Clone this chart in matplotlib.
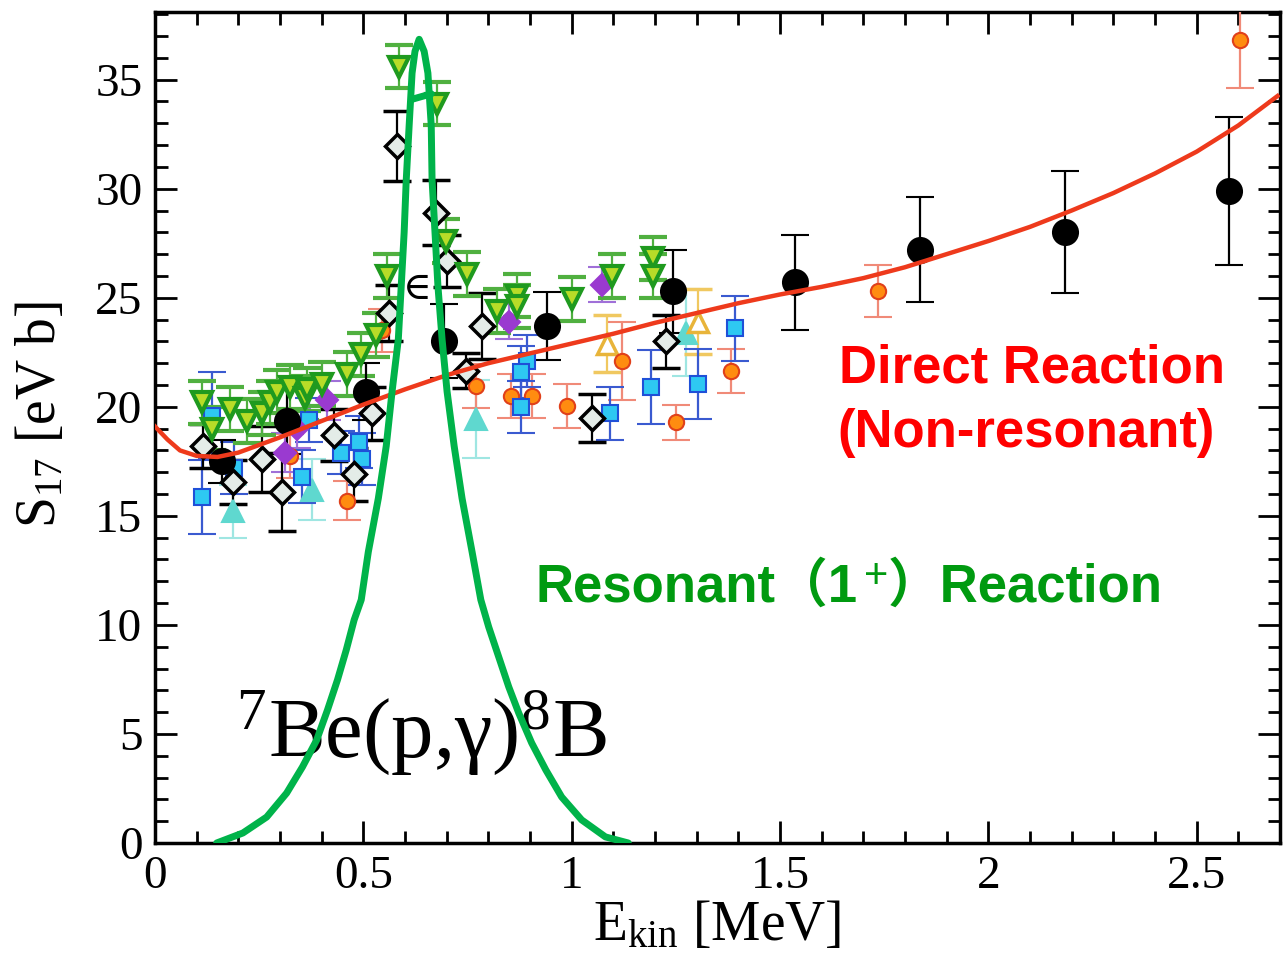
import matplotlib
matplotlib.use("Agg")
import matplotlib.pyplot as plt

plt.rcParams['font.family'] = ['Liberation Serif', 'DejaVu Serif']
plt.rcParams['mathtext.fontset'] = 'custom'
plt.rcParams['mathtext.rm'] = 'Liberation Serif'
plt.rcParams['mathtext.it'] = 'Liberation Serif:italic'

# direct capture curve (non-resonant)
direct_E = [0.0, 0.03, 0.06, 0.1, 0.15, 0.2, 0.3, 0.4, 0.5, 0.6, 0.7, 0.8, 0.9,
            1.0, 1.1, 1.2, 1.3, 1.4, 1.5, 1.6, 1.7, 1.8, 1.9, 2.0, 2.1, 2.2,
            2.3, 2.4, 2.5, 2.6, 2.694]
direct_S = [19.1, 18.5, 18.0, 17.75, 17.7, 17.9, 18.6, 19.35, 20.1, 20.8, 21.45,
            22.0, 22.45, 22.9, 23.35, 23.85, 24.3, 24.75, 25.15, 25.5, 25.9,
            26.4, 27.0, 27.6, 28.25, 29.0, 29.8, 30.7, 31.7, 32.9, 34.25]

# resonant 1+ peak
res_E = [0.148, 0.211, 0.268, 0.316, 0.354, 0.388, 0.414, 0.438, 0.459, 0.478,
         0.495, 0.512, 0.536, 0.555, 0.569, 0.584, 0.591, 0.598, 0.603, 0.610,
         0.617, 0.624, 0.634,
         0.646, 0.655, 0.663, 0.665, 0.672, 0.679, 0.689, 0.701, 0.718, 0.737,
         0.761, 0.782, 0.801, 0.825, 0.849, 0.873, 0.904, 0.938, 0.976, 1.024,
         1.081, 1.136]
res_S = [0.0, 0.46, 1.19, 2.29, 3.49, 4.72, 6.10, 7.48, 8.85, 10.23,
         11.15, 13.35, 15.8, 18.2, 20.7, 23.1, 25.55, 28.0, 30.4, 32.9,
         35.3, 36.3, 36.85,
         36.3, 35.3, 32.9, 30.4, 28.0, 25.55, 23.1, 20.7, 18.2, 15.8,
         13.35, 11.15, 9.9, 8.53, 7.16, 5.96, 4.59, 3.35, 2.11, 1.06,
         0.28, 0.0]
bar_E = [0.617, 0.663]
bar_S = [34.1, 34.35]

# measurements
blk_E = [0.16, 0.316, 0.507, 0.694, 0.94, 1.244, 1.536, 1.837, 2.184, 2.577]
blk_S = [17.5, 19.35, 20.7, 23.0, 23.7, 25.3, 25.7, 27.2, 28.0, 29.9]
blk_err = [1.0, 1.5, 1.3, 1.7, 1.55, 1.9, 2.2, 2.4, 2.8, 3.4]

dia_E = [0.115, 0.187, 0.258, 0.304, 0.43, 0.478, 0.52, 0.562, 0.581, 0.675,
         0.70, 0.746, 0.785, 1.048, 1.227]
dia_S = [18.2, 16.55, 17.6, 16.1, 18.7, 16.9, 19.7, 24.3, 31.95, 28.9,
         26.7, 21.65, 23.7, 19.5, 23.0]
dia_err = [1.0, 1.0, 1.5, 1.8, 1.2, 1.2, 1.2, 1.3, 1.6, 1.5,
           1.2, 0.8, 1.5, 1.1, 1.2]

tri_E = [0.113, 0.137, 0.18, 0.22, 0.256, 0.275, 0.294, 0.325, 0.36, 0.364,
         0.40, 0.462, 0.495, 0.531, 0.557, 0.586, 0.677, 0.699, 0.749, 0.82,
         0.868, 0.868, 1.00, 1.096, 1.196, 1.196]
tri_S = [20.2, 19.0, 19.9, 19.35, 19.7, 20.2, 20.7, 20.9, 20.4, 20.8,
         21.05, 21.5, 22.4, 23.3, 26.0, 35.6, 33.9, 27.6, 26.1, 24.4,
         25.1, 24.6, 24.95, 26.0, 26.8, 26.0]
tri_err = [1.0] * len(tri_E)

sq_E = [0.112, 0.136, 0.19, 0.352, 0.37, 0.447, 0.49, 0.497, 0.892, 0.878,
        0.878, 1.093, 1.19, 1.304, 1.392]
sq_S = [15.85, 19.6, 17.2, 16.8, 19.4, 17.9, 18.4, 17.6, 22.1, 21.6,
        20.0, 19.7, 20.9, 21.05, 23.6]
sq_err = [1.7, 2.0, 1.2, 1.2, 1.0, 1.0, 1.2, 1.2, 1.2, 1.2,
          1.2, 1.2, 1.7, 1.6, 1.5]

org_E = [0.323, 0.462, 0.545, 0.77, 0.854, 0.904, 0.988, 1.12, 1.251, 1.383,
         1.734, 2.603]
org_S = [17.75, 15.7, 23.5, 20.95, 20.5, 20.5, 20.05, 22.1, 19.3, 21.65,
         25.3, 36.8]
org_err = [1.0, 0.9, 1.0, 1.0, 1.0, 1.0, 1.0, 1.8, 0.8, 1.0, 1.2, 2.2]

cyn_E = [0.187, 0.378, 0.77, 1.275]
cyn_S = [15.2, 16.2, 19.45, 23.4]
cyn_err = [1.2, 1.4, 1.8, 2.0]

pur_E = [0.311, 0.342, 0.414, 0.849, 1.072]
pur_S = [17.9, 19.0, 20.3, 23.9, 25.6]
pur_err = [0.9, 0.9, 0.9, 0.8, 0.8]

yel_E = [1.084, 1.304]
yel_S = [22.9, 23.9]
yel_err = [1.3, 1.5]

fig = plt.figure(figsize=(12.84, 9.63), dpi=100)
ax = fig.add_axes([0.1207, 0.1246, 0.8762, 0.8629])

def pts(E, S, err, marker, ms, fc, ec, errc, mew=1.5):
    ax.errorbar(E, S, yerr=err, fmt=marker, ms=ms, mfc=fc, mec=ec, mew=mew,
                ecolor=errc, elinewidth=1.6, capsize=10, capthick=1.6, zorder=3)

pts(cyn_E, cyn_S, cyn_err, '^', 16, '#5fd8cf', '#5fd8cf', '#9fe6e2')
pts(yel_E, yel_S, yel_err, '^', 14, 'white', '#e8b43a', '#f0c860', mew=2.5)
pts(org_E, org_S, org_err, 'o', 11, '#ff8c10', '#e0401a', '#f08a78')
pts(sq_E, sq_S, sq_err, 's', 11, '#2ec8f2', '#1f50d8', '#3a5ad0')
pts(pur_E, pur_S, pur_err, 'D', 11, '#9a3ad0', '#9a3ad0', '#a070d8')
pts(dia_E, dia_S, dia_err, 'D', 12, '#e4ece8', 'black', 'black', mew=2.5)
pts(tri_E, tri_S, tri_err, 'v', 15, '#b8dc28', '#1f9a1f', '#50b040', mew=3)
pts(blk_E, blk_S, blk_err, 'o', 18, 'black', 'black', 'black')

ax.text(0.63, 25.4, '∈', fontsize=28, ha='center', va='center', zorder=3)

ax.plot(direct_E, direct_S, color='#ee3a1c', lw=3.2, zorder=4)
ax.plot(res_E, res_S, color='#00b34a', lw=5, zorder=5,
        solid_capstyle='round', solid_joinstyle='round')
ax.plot(bar_E, bar_S, color='#00b34a', lw=5, zorder=5, solid_capstyle='round')

ax.set_xlim(0, 2.694)
ax.set_ylim(0, 38.1)
ax.set_xticks([0, 0.5, 1, 1.5, 2, 2.5])
ax.set_xticklabels(['0', '0.5', '1', '1.5', '2', '2.5'])
ax.set_yticks(range(0, 36, 5))
ax.set_xticks([i * 0.1 for i in range(28)], minor=True)
ax.set_yticks(range(0, 39), minor=True)
ax.tick_params(which='both', direction='in', top=True, right=True, width=2)
ax.tick_params(which='major', length=16, labelsize=34, pad=9)
ax.tick_params(which='minor', length=9)
for s in ax.spines.values():
    s.set_linewidth(2.5)

ax.set_xlabel(r'E$_{\mathrm{kin}}$ [MeV]', fontsize=40)
ax.set_ylabel(r'S$_{17}$ [eV b]', fontsize=40)
ax.xaxis.set_label_coords(0.5, -0.068)
ax.yaxis.set_label_coords(-0.078, 0.515)

ax.text(0.195, 3.95, r'$^{7}$Be(p,γ)$^{8}$B', fontsize=61, va='baseline', zorder=4)

sans = ['Liberation Sans', 'Noto Sans CJK JP', 'DejaVu Sans']
ax.text(2.105, 21.75, 'Direct Reaction', color='#ff0000', fontsize=38,
        fontweight='bold', family=sans, ha='center', va='center', zorder=6)
ax.text(2.09, 18.8, '(Non-resonant)', color='#ff0000', fontsize=38,
        fontweight='bold', family=sans, ha='center', va='center', zorder=6)

green = '#009a10'
t1 = ax.text(0.914, 11.7, 'Resonant（1', color=green, fontsize=38,
             fontweight='bold', family=sans, ha='left', va='center', zorder=6)
t2 = ax.annotate('+', xy=(1, 0.5), xycoords=t1, xytext=(4, 8),
                 textcoords='offset points', ha='left', va='center',
                 color=green, fontsize=30, family=sans, zorder=6)
ax.annotate('）Reaction', xy=(1, 0), xycoords=(t2, t1), xytext=(0, 0),
            textcoords='offset points', ha='left', va='bottom',
            color=green, fontsize=38, fontweight='bold', family=sans, zorder=6)

fig.savefig('out.png', dpi=100)
